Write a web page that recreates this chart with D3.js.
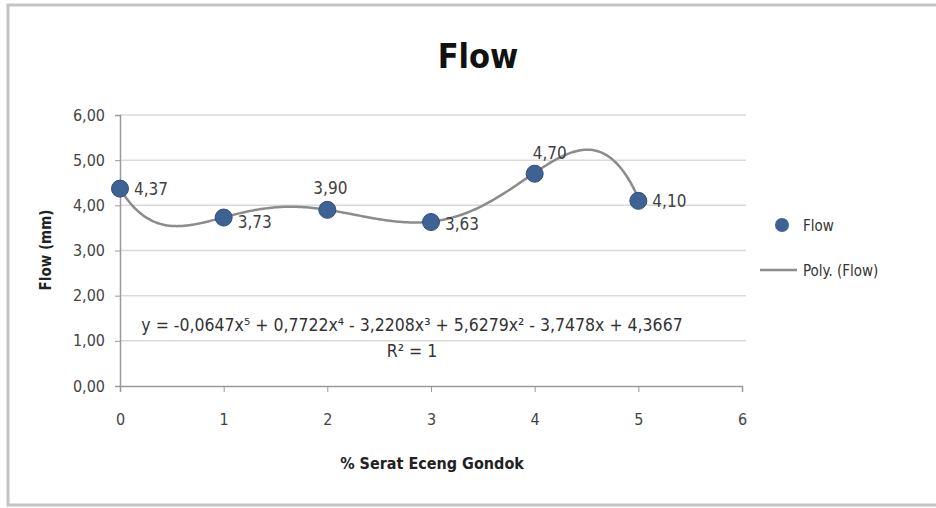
<!DOCTYPE html>
<html><head><meta charset="utf-8">
<script src="https://cdn.jsdelivr.net/npm/d3@7"></script>
<style>body{margin:0;background:#fff}svg{display:block}text{font-family:"Liberation Sans Narrow","DejaVu Sans Condensed",sans-serif}</style>
</head><body><svg id="c" width="936" height="508"></svg>
<script>
const xValues = [0, 1, 2, 3, 4, 5];
const flowValues = [4.37, 3.73, 3.90, 3.63, 4.70, 4.10];
const flowLabels = ["4,37", "3,73", "3,90", "3,63", "4,70", "4,10"];
const yTicks = [0, 1, 2, 3, 4, 5, 6];
const xTicks = [0, 1, 2, 3, 4, 5, 6];
// trendline coefficients as printed (x^5 ... x^0)
const polyCoef = [-0.0647, 0.7722, -3.2208, 5.6279, -3.7478, 4.3667];
const eqText = "y = -0,0647x\u2075 + 0,7722x\u2074 - 3,2208x\u00b3 + 5,6279x\u00b2 - 3,7478x + 4,3667";
const r2Text = "R\u00b2 = 1";

const svg = d3.select("#c");
// frame
svg.append("rect").attr("x",8).attr("y",5).attr("width",940).attr("height",500)
  .attr("fill","none").attr("stroke","#c4c4c4").attr("stroke-width",3);

const x = d3.scaleLinear().domain([0,6]).range([120,742]);
const y = d3.scaleLinear().domain([0,6]).range([386,115]);
const fmt = v => d3.format(".2f")(v).replace(".", ",");

// gridlines
svg.append("g").selectAll("line").data(yTicks.filter(d=>d>0)).join("line")
  .attr("x1",x(0)).attr("x2",x(6)+4).attr("y1",d=>y(d)).attr("y2",d=>y(d))
  .attr("stroke","#d9d9d9").attr("stroke-width",1.5);

// axes
const gx = svg.append("g").attr("transform",`translate(0,${y(0)})`)
  .call(d3.axisBottom(x).tickValues(xTicks).tickSize(6).tickPadding(22).tickFormat(d3.format("d")));
const gy = svg.append("g").attr("transform",`translate(${x(0)},0)`)
  .call(d3.axisLeft(y).tickValues(yTicks).tickSize(5).tickPadding(10).tickFormat(fmt));
[gx,gy].forEach(g=>{
  g.select(".domain").attr("stroke","#9a9a9a").attr("stroke-width",1.5);
  g.selectAll(".tick line").attr("stroke","#9a9a9a");
  g.selectAll(".tick text").attr("fill","#444").attr("font-size",16);
});

// trendline
const poly = t => polyCoef.reduce((acc,c)=>acc*t + c, 0);
const curveX = d3.range(0, 5.0001, 0.02);
svg.append("path").datum(curveX)
  .attr("d", d3.line().x(d=>x(d)).y(d=>y(poly(d))).curve(d3.curveBasis))
  .attr("fill","none").attr("stroke","#8c8c8c").attr("stroke-width",2.5);

// points
svg.append("g").selectAll("circle").data(xValues).join("circle")
  .attr("cx",d=>x(d)).attr("cy",(d,i)=>y(flowValues[i])).attr("r",8.5)
  .attr("fill","#3f6294").attr("stroke","#2e4d7a").attr("stroke-width",1);

// data labels
const lblOff = [[14,6],[14,10],[-14,-16],[14,8],[-2,-15],[14,6]];
svg.append("g").selectAll("text").data(xValues).join("text")
  .attr("x",(d,i)=>x(d)+lblOff[i][0]).attr("y",(d,i)=>y(flowValues[i])+lblOff[i][1])
  .attr("font-size",17).attr("fill","#404040").text((d,i)=>flowLabels[i]);

// equation
svg.append("text").attr("x",412).attr("y",331).attr("text-anchor","middle")
  .attr("font-size",17.5).attr("fill","#333").text(eqText);
svg.append("text").attr("x",412).attr("y",357).attr("text-anchor","middle")
  .attr("font-size",17.5).attr("fill","#333").text(r2Text);

// titles
svg.append("text").attr("x",478).attr("y",68).attr("text-anchor","middle")
  .attr("font-size",34).attr("font-weight","bold").attr("fill","#111").text("Flow");
svg.append("text").attr("transform","translate(51,250) rotate(-90)").attr("text-anchor","middle")
  .attr("font-size",15).attr("font-weight","bold").attr("fill","#222").text("Flow (mm)");
svg.append("text").attr("x",432).attr("y",469).attr("text-anchor","middle")
  .attr("font-size",16).attr("font-weight","bold").attr("fill","#222").text("% Serat Eceng Gondok");

// legend
const lg = svg.append("g");
lg.append("circle").attr("cx",782).attr("cy",225).attr("r",7).attr("fill","#3f6294");
lg.append("text").attr("x",803).attr("y",231).attr("font-size",15).attr("fill","#333").text("Flow");
lg.append("line").attr("x1",760).attr("x2",797).attr("y1",270).attr("y2",270).attr("stroke","#8c8c8c").attr("stroke-width",2.5);
lg.append("text").attr("x",803).attr("y",276).attr("font-size",15).attr("fill","#333").text("Poly. (Flow)");
</script></body></html>
